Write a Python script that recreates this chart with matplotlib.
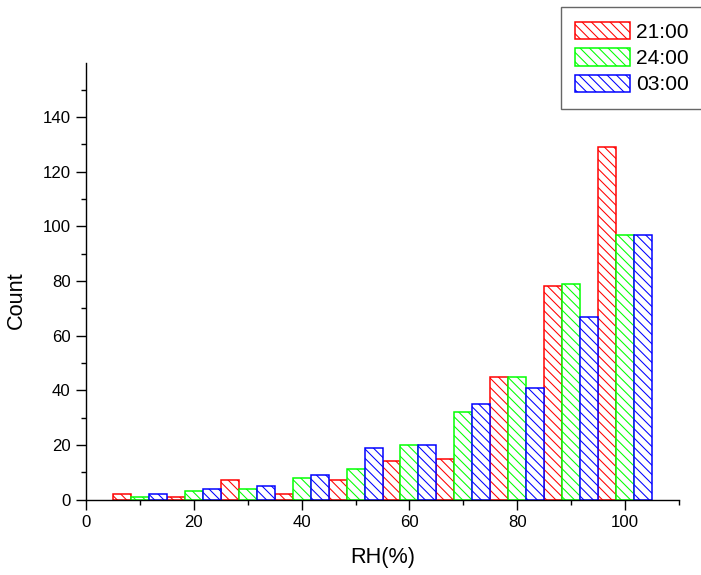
import matplotlib
matplotlib.use('Agg')
import matplotlib.pyplot as plt
import numpy as np

plt.rcParams['font.family'] = ['Liberation Sans', 'DejaVu Sans']
plt.rcParams['hatch.linewidth'] = 0.9

# histogram of relative humidity, three observation times
bin_centers = [10, 20, 30, 40, 50, 60, 70, 80, 90, 100]
count_2100 = [2, 1, 7, 2, 7, 14, 15, 45, 78, 129]
count_2400 = [1, 3, 4, 8, 11, 20, 32, 45, 79, 97]
count_0300 = [2, 4, 5, 9, 19, 20, 35, 41, 67, 97]
series_labels = ['21:00', '24:00', '03:00']
series_colors = ['#ff0000', '#00ff00', '#0000ff']

DPI = 84
W, H = 701, 575
fig = plt.figure(figsize=(W / DPI, H / DPI), dpi=DPI)
ax = fig.add_axes([86 / W, 1 - 499.5 / H, (679 - 86) / W, (499.5 - 62.5) / H])

bin_width = 10.0
bar_w = bin_width / 3
centers = np.array(bin_centers, dtype=float)
for k, (vals, lab, col) in enumerate(zip([count_2100, count_2400, count_0300],
                                         series_labels, series_colors)):
  lefts = centers - bin_width / 2 + k * bar_w
  ax.bar(lefts, vals, width=bar_w, align='edge', facecolor='white',
         edgecolor=col, hatch='\\\\\\', linewidth=1.3, label=lab)

ax.set_xlim(0, 110)
ax.set_ylim(0, 160)
ax.set_xticks(np.arange(0, 101, 20))
ax.set_xticks(np.arange(10, 111, 20), minor=True)
ax.set_yticks(np.arange(0, 141, 20))
ax.set_yticks(np.arange(10, 151, 20), minor=True)

for side in ['top', 'right']:
  ax.spines[side].set_visible(False)
for side in ['left', 'bottom']:
  ax.spines[side].set_linewidth(1.2)

ax.tick_params(which='major', direction='out', length=8.5, width=1.2,
               labelsize=14.4, pad=4.5)
ax.tick_params(which='minor', direction='out', length=4.5, width=1.2)

ax.set_xlabel('RH(%)', fontsize=18.5, va='center')
ax.set_ylabel('Count', fontsize=18.5, va='center')
ax.xaxis.set_label_coords(0.5, (499.5 - 557) / 437)
ax.yaxis.set_label_coords((16.7 - 86) / 593, (499.5 - 300) / 437)

leg = ax.legend(loc='upper left', bbox_to_anchor=(560.7 / W, 1 - 7.3 / H),
                bbox_transform=fig.transFigure, borderaxespad=0,
                fontsize=18, fancybox=False, handlelength=2.6,
                handleheight=0.9, handletextpad=0.3, labelspacing=0.3,
                borderpad=0.7)
leg.get_frame().set_edgecolor('#404040')
leg.get_frame().set_linewidth(1.2)

fig.savefig('out.png', dpi=DPI)
